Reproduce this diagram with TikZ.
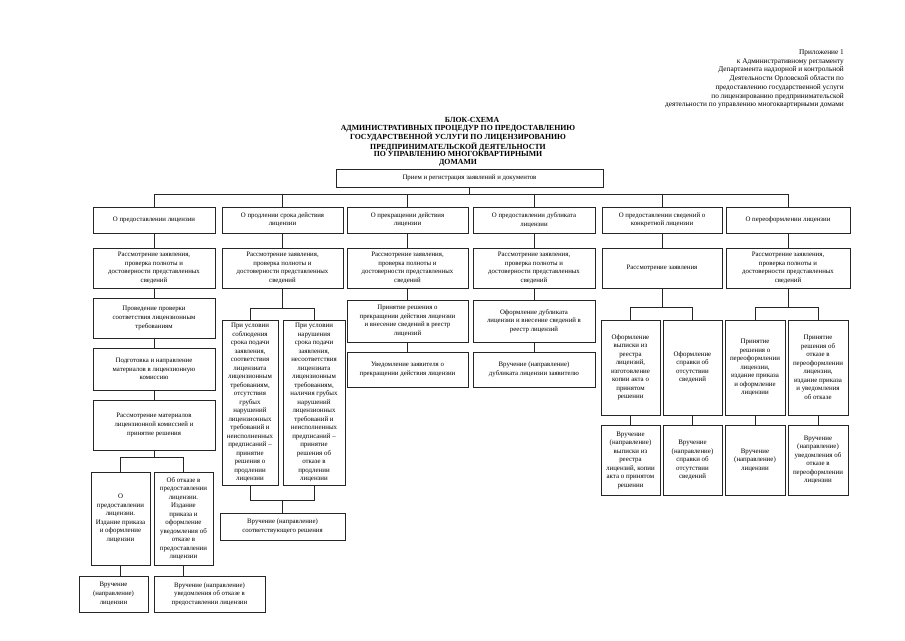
\documentclass[tikz,border=0pt]{standalone}
\usepackage{fontspec}
\setmainfont{Liberation Serif}
\tikzset{
  bx/.style={draw=black!85, line width=0.8pt, inner sep=1pt, align=center, font=\fontsize{6.8}{8.6}\selectfont},
  nb/.style={font=\fontsize{6.9}{8.5}\selectfont},
  ln/.style={draw=black!85, line width=0.7pt},
  hdr/.style={inner sep=0pt, align=right, font=\fontsize{7.3}{8.7}\selectfont},
  ttl/.style={inner sep=0pt, align=center, font=\bfseries\fontsize{7.8}{7.6}\selectfont}
}
\newcommand\mkbox[7][]{%
  \pgfmathsetmacro\bw{#5-#3}\pgfmathsetmacro\bh{#6-#4}%
  \pgfmathsetmacro\bcx{(#3+#5)/2}\pgfmathsetmacro\bcy{(#4+#6)/2}%
  \node[bx, #1, minimum width=\bw pt, minimum height=\bh pt] (#2) at (\bcx,\bcy) {#7};}
\begin{document}
\begin{tikzpicture}[x=1pt,y=-1pt]
\useasboundingbox[fill=white] (0,0) rectangle (905,640);
% header
\node[hdr, anchor=north east] (hdr) at (844,49.5) {Приложение 1\\к Административному регламенту\\Департамента надзорной и контрольной\\Деятельности Орловской области по\\предоставлению государственной услуги\\по лицензированию предпринимательской\\деятельности по управлению многоквартирными домами};
% title
\node[ttl, anchor=north] (t0) at (472,117.5) {БЛОК-СХЕМА};
\node[ttl, anchor=north] (t1) at (458,125.1) {АДМИНИСТРАТИВНЫХ ПРОЦЕДУР ПО ПРЕДОСТАВЛЕНИЮ\\ГОСУДАРСТВЕННОЙ УСЛУГИ ПО ЛИЦЕНЗИРОВАНИЮ\\ПРЕДПРИНИМАТЕЛЬСКОЙ ДЕЯТЕЛЬНОСТИ\\ПО УПРАВЛЕНИЮ МНОГОКВАРТИРНЫМИ\\ДОМАМИ};
% top
\mkbox{top}{336}{169}{603}{187}{Прием и регистрация заявлений и документов}
% row 1
\mkbox{r1a}{93}{207}{215}{233}{О предоставлении лицензии}
\mkbox{r1b}{222}{207}{343}{233}{О продлении срока действия\\лицензии}
\mkbox{r1c}{347}{207}{468}{233}{О прекращении действия\\лицензии}
\mkbox{r1d}{473}{207}{595}{233}{О предоставлении дубликата\\лицензии}
\mkbox{r1e}{602}{207}{722}{233}{О предоставлении сведений о\\конкретной лицензии}
\mkbox{r1f}{726}{207}{850}{233}{О переоформлении лицензии}
% row 2
\mkbox{r2a}{93}{248}{215}{288}{Рассмотрение заявления,\\проверка полноты и\\достоверности представленных\\сведений}
\mkbox{r2b}{222}{248}{343}{288}{Рассмотрение заявления,\\проверка полноты и\\достоверности представленных\\сведений}
\mkbox{r2c}{347}{248}{468}{288}{Рассмотрение заявления,\\проверка полноты и\\достоверности представленных\\сведений}
\mkbox{r2d}{473}{248}{595}{288}{Рассмотрение заявления,\\проверка полноты и\\достоверности представленных\\сведений}
\mkbox{r2e}{602}{248}{722}{288}{Рассмотрение заявления}
\mkbox{r2f}{726}{248}{850}{288}{Рассмотрение заявления,\\проверка полноты и\\достоверности представленных\\сведений}
% column 1
\mkbox{a1}{93}{298}{215}{338}{Проведение проверки\\соответствия лицензионным\\требованиям}
\mkbox{a2}{93}{348}{215}{390}{Подготовка и направление\\материалов в лицензионную\\комиссию}
\mkbox{a3}{93}{400}{215}{450}{Рассмотрение материалов\\лицензионной комиссией и\\принятие решения}
\mkbox[nb]{a4}{91}{472}{150}{565}{О\\предоставлении\\лицензии.\\Издание приказа\\и оформление\\лицензии}
\mkbox[nb]{a5}{154}{472}{213}{565}{Об отказе в\\предоставлении\\лицензии.\\Издание\\приказа и\\оформление\\уведомления об\\отказе в\\предоставлении\\лицензии}
\mkbox{a6}{79}{576}{148}{612}{Вручение\\(направление)\\лицензии}
\mkbox{a7}{154}{576}{265}{612}{Вручение (направление)\\уведомления об отказе в\\предоставлении лицензии}
% column 2
\mkbox[nb]{b1}{222}{320}{278}{485}{При условии\\соблюдения\\срока подачи\\заявления,\\соответствия\\лицензиата\\лицензионным\\требованиям,\\отсутствия\\грубых\\нарушений\\лицензионных\\требований и\\неисполненных\\предписаний –\\принятие\\решения о\\продлении\\лицензии}
\mkbox[nb]{b2}{283}{320}{345}{485}{При условии\\нарушения\\срока подачи\\заявления,\\несоответствия\\лицензиата\\лицензионным\\требованиям,\\наличия грубых\\нарушений\\лицензионных\\требований и\\неисполненных\\предписаний –\\принятие\\решения об\\отказе в\\продлении\\лицензии}
\mkbox{b3}{220}{513}{345}{540}{Вручение (направление)\\соответствующего решения}
% column 3, 4
\mkbox{c1}{347}{300}{468}{342}{Принятие решения о\\прекращении действия лицензии\\и внесение сведений в реестр\\лицензий}
\mkbox{c2}{347}{352}{468}{387}{Уведомление заявителя о\\прекращении действия лицензии}
\mkbox{d1}{473}{300}{595}{342}{Оформление дубликата\\лицензии и внесение сведений в\\реестр лицензий}
\mkbox{d2}{473}{352}{595}{387}{Вручение (направление)\\дубликата лицензии заявителю}
% column 5
\mkbox[nb]{e1}{601}{320}{660}{415}{Оформление\\выписки из\\реестра\\лицензий,\\изготовление\\копии акта о\\принятом\\решении}
\mkbox[nb]{e2}{663}{320}{722}{415}{Оформление\\справки об\\отсутствии\\сведений}
\mkbox[nb]{e3}{601}{425}{660}{495}{Вручение\\(направление)\\выписки из\\реестра\\лицензий, копии\\акта о принятом\\решении}
\mkbox[nb]{e4}{663}{425}{722}{495}{Вручение\\(направление)\\справки об\\отсутствии\\сведений}
% column 6
\mkbox[nb]{f1}{725}{320}{785}{415}{Принятие\\решения о\\переоформлении\\лицензии,\\издание приказа\\и оформление\\лицензии}
\mkbox[nb]{f2}{788}{320}{848}{415}{Принятие\\решения об\\отказе в\\переоформлении\\лицензии,\\издание приказа\\и уведомления\\об отказе}
\mkbox[nb]{f3}{725}{425}{785}{495}{Вручение\\(направление)\\лицензии}
\mkbox[nb]{f4}{788}{425}{848}{495}{Вручение\\(направление)\\уведомления об\\отказе в\\переоформлении\\лицензии}
% connectors
\coordinate (bus0) at (0,194);
\coordinate (bus1) at (0,457);
\coordinate (bus2) at (0,308);
\coordinate (bus3) at (0,500);
\coordinate (bus5) at (0,307);
\draw[ln] (top.south) -- (top.south |- bus0);
\draw[ln] (r1a.north) -- (r1a.north |- bus0) -- (r1f.north |- bus0) -- (r1f.north);
\foreach \n in {r1b,r1c,r1d,r1e} \draw[ln] (\n.north) -- (\n.north |- bus0);
\foreach \n in {a,b,c,d,e,f} \draw[ln] (r1\n.south) -- (r2\n.north);
\draw[ln] (r2a.south) -- (a1.north);
\draw[ln] (a1.south) -- (a2.north);
\draw[ln] (a2.south) -- (a3.north);
\draw[ln] (a3.south) -- (a3.south |- bus1);
\draw[ln] (a4.north) -- (a4.north |- bus1) -- (a5.north |- bus1) -- (a5.north);
\draw[ln] (a4.south) -- (a4.south |- a6.north);
\draw[ln] (a5.south) -- (a5.south |- a7.north);
\draw[ln] (r2b.south) -- (r2b.south |- bus2);
\draw[ln] (b1.north) -- (b1.north |- bus2) -- (b2.north |- bus2) -- (b2.north);
\draw[ln] (b1.south) -- (b1.south |- bus3) -- (b2.south |- bus3) -- (b2.south);
\draw[ln] (b3.north) -- (b3.north |- bus3);
\draw[ln] (r2c.south) -- (c1.north);
\draw[ln] (c1.south) -- (c2.north);
\draw[ln] (r2d.south) -- (d1.north);
\draw[ln] (d1.south) -- (d2.north);
\draw[ln] (r2e.south) -- (r2e.south |- bus5);
\draw[ln] (e1.north) -- (e1.north |- bus5) -- (e2.north |- bus5) -- (e2.north);
\draw[ln] (r2f.south) -- (r2f.south |- bus5);
\draw[ln] (f1.north) -- (f1.north |- bus5) -- (f2.north |- bus5) -- (f2.north);
\draw[ln] (e1.south) -- (e3.north);
\draw[ln] (e2.south) -- (e4.north);
\draw[ln] (f1.south) -- (f3.north);
\draw[ln] (f2.south) -- (f4.north);
\end{tikzpicture}
\end{document}
